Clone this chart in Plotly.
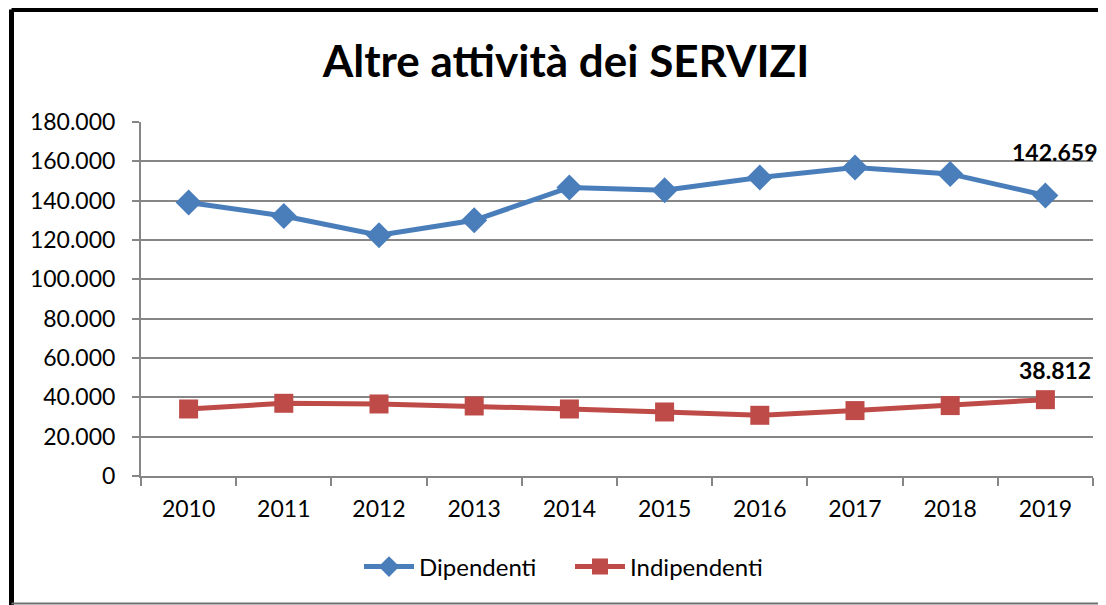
import plotly.graph_objects as go

years = ["2010", "2011", "2012", "2013", "2014", "2015", "2016", "2017", "2018", "2019"]
dipendenti = [139050, 132200, 122400, 130000, 146700, 145300, 151800, 156850, 153600, 142659]
indipendenti = [34080, 36970, 36620, 35600, 34080, 32550, 30870, 33260, 35800, 38812]
title_text = "Altre attività dei SERVIZI"

FONT = "Lato"
BLUE = "#4A7EBB"
RED = "#BE4B48"

# the page puts the figure at (8, 8); target coordinates below are window pixels
OFF = 8
WIN_W, WIN_H = 1106, 605
W, H = WIN_W - OFF, WIN_H - OFF

# plot area in window pixels
PX0, PX1, PY0, PY1 = 141, 1093, 122, 476
L, R = PX0 - OFF, W - (PX1 - OFF)
T, B = PY0 - OFF, H - (PY1 - OFF)
pw, ph = PX1 - PX0, PY1 - PY0


def px(X):
    return (X - PX0) / pw


def py(Y):
    return (PY1 - Y) / ph


fig = go.Figure()
fig.add_trace(go.Scatter(
    x=years, y=dipendenti, name="Dipendenti", mode="lines+markers",
    line=dict(color=BLUE, width=5),
    marker=dict(symbol="diamond", size=20, color=BLUE),
))
fig.add_trace(go.Scatter(
    x=years, y=indipendenti, name="Indipendenti", mode="lines+markers",
    line=dict(color=RED, width=5),
    marker=dict(symbol="square", size=19, color=RED),
))


def fmt(v):
    return f"{v:,}".replace(",", ".")


for series, ys in ((dipendenti, 43), (indipendenti, 30)):
    fig.add_annotation(
        x=len(years) - 1, y=series[-1], xref="x", yref="y",
        text=f"<b>{fmt(series[-1])}</b>", showarrow=False,
        xshift=10, yshift=ys,
        font=dict(family=FONT, size=23, color="black"),
    )

fig.add_shape(type="line", xref="paper", yref="paper",
              x0=px(11.5), x1=px(1106), y0=py(9.5), y1=py(9.5),
              line=dict(color="black", width=5))
fig.add_shape(type="line", xref="paper", yref="paper",
              x0=px(11.5), x1=px(11.5), y0=py(9.5), y1=py(605),
              line=dict(color="black", width=5))
fig.add_shape(type="line", xref="paper", yref="paper",
              x0=px(11.5), x1=px(1106), y0=py(603.5), y1=py(603.5),
              line=dict(color="#707070", width=2))

fig.update_layout(
    width=W, height=H,
    margin=dict(l=L, r=R, t=T, b=B),
    paper_bgcolor="white", plot_bgcolor="white",
    separators=",.",
    font=dict(family=FONT, size=23, color="black"),
    title=dict(text=f"<b>{title_text}</b>", x=px(566), xref="paper", xanchor="center",
               y=1 - (62 - OFF) / H, yanchor="middle",
               font=dict(family=FONT, size=44, color="black")),
    showlegend=True,
    legend=dict(orientation="h", x=px(570), xanchor="center", y=py(567), yanchor="middle",
                font=dict(family=FONT, size=24), itemwidth=50, bgcolor="rgba(0,0,0,0)",
                entrywidth=146, entrywidthmode="pixels"),
    xaxis=dict(
        type="category", range=[-0.5, 9.5], tickson="boundaries",
        showgrid=False, showline=True, linecolor="#868686", linewidth=2,
        ticks="outside", ticklen=8, tickwidth=2, tickcolor="#868686",
        ticklabelstandoff=11, tickfont=dict(family=FONT, size=23),
    ),
    yaxis=dict(
        range=[0, 180000], dtick=20000, tickformat=",.0f",
        showgrid=True, gridcolor="#868686", gridwidth=2,
        showline=True, linecolor="#868686", linewidth=2,
        ticks="outside", ticklen=7, tickwidth=2, tickcolor="#868686",
        ticklabelstandoff=12, tickfont=dict(family=FONT, size=23),
        zeroline=False,
    ),
)

fig.write_html("out.html")
